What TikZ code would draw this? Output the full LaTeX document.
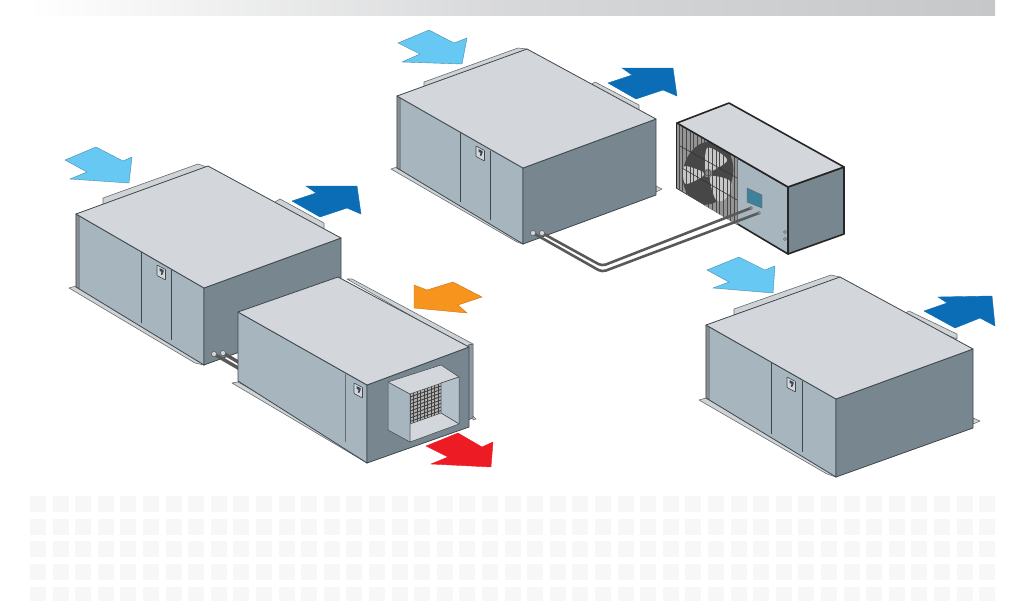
\documentclass[tikz,border=0pt]{standalone}
\definecolor{topgray}{HTML}{D3D7DC}
\definecolor{sidegray}{HTML}{A7B5BF}
\definecolor{endgray}{HTML}{78878F}
\definecolor{flangegray}{HTML}{D0D3D6}
\definecolor{edgegray}{HTML}{3E474C}
\definecolor{screenblue}{HTML}{3F8199}
\definecolor{inblue}{HTML}{67C8F3}
\definecolor{outblue}{HTML}{0B6DB5}
\definecolor{inorange}{HTML}{F7941E}
\definecolor{outred}{HTML}{ED1C24}
\definecolor{barend}{HTML}{C6C7C9}
\definecolor{tile}{HTML}{F7F7F7}
\tikzset{
  topface/.style={fill=topgray,draw=edgegray,line width=.8pt,line join=round},
  sideface/.style={fill=sidegray,draw=edgegray,line width=.8pt,line join=round},
  endface/.style={fill=endgray,draw=edgegray,line width=.8pt,line join=round},
  flange/.style={fill=flangegray,draw=edgegray!80,line width=.6pt,line join=round},
  divider/.style={draw=edgegray,line width=.8pt},
  pipeline/.style={draw=black!65,line width=2.6pt,rounded corners=4pt},
  pipeend/.style={fill=topgray,draw=black!60,line width=.7pt},
  arrowin/.style={fill=inblue,draw=inblue!70!black,line width=.4pt},
  arrowout/.style={fill=outblue,draw=outblue,line width=.4pt},
  lockicon/.pic={
    \draw[fill=topgray,draw=edgegray,line width=.6pt,rounded corners=.5pt] (0,0)--(8.5,4.5)--(8.5,15)--(0,10.5)--cycle;
    \fill[edgegray] (2.5,3)--(6.5,5)--(6.5,7)--(5.2,10)--(3.8,9.5)--(4.6,6.8)--(2.5,5.8)--cycle;
  }
}
\begin{document}
\begin{tikzpicture}[x=1pt,y=-1pt]
\useasboundingbox (0,0) rectangle (1024,600);
\clip (0,0) rectangle (1024,600);

% header bar and tiles
\shade[left color=white,right color=barend,middle color=barend!70] (28,0) rectangle (995,15);
\foreach \row in {0,...,4}
  \foreach \col in {0,...,42}
    \fill[tile] ({30+22.6*\col},{496+22.7*\row}) rectangle +(16,16);

% left unit
\draw[flange] (103,198)--(198,164)--(207,167)--(207,170)--(103,206)--cycle;
\draw[flange] (280,199)--(324,223)--(324,229)--(270,205)--cycle;
\draw[flange] (69,288)--(76,286)--(204,360)--(204,365)--(195,363)--cycle;
\draw[sideface] (76,214)--(204,288)--(204,365)--(76,287)--cycle;
\draw[fill=edgegray!60,draw=edgegray,line width=.5pt] (76,214)--(79,216)--(79,288.5)--(76,287)--cycle;
\draw[endface] (204,288)--(341,238)--(341,315)--(204,365)--cycle;
\draw[topface] (76,214)--(208,166)--(341,238)--(204,288)--cycle;
\draw[divider] (141,252)--(141,323);
\draw[divider] (171,270)--(171,340);
\pic at (157,265) {lockicon};

% pipes between left unit and lower unit
\draw[pipeline,line width=3.4pt] (214,354)--(245,372);
\draw[pipeline,line width=3.4pt] (223,353)--(245,366);
\draw[pipeend] (214,354) circle (2.6);
\draw[pipeend] (223,353) circle (2.6);

% lower unit
\draw[flange] (347,279)--(352,279)--(473,344)--(467,348)--cycle;
\draw[flange] (232,383)--(238,382)--(367,455)--(367,463)--(357,457)--cycle;
\draw[fill=endgray!85!white,draw=edgegray,line width=.5pt] (468,345)--(473,344)--(473,418)--(468,420)--cycle;
\draw[flange] (473,416)--(476,419)--(473,420)--cycle;
\draw[sideface] (238,312)--(367,385)--(367,463)--(238,381)--cycle;
\draw[endface] (367,385)--(469,347)--(469,427)--(367,463)--cycle;
\draw[topface] (238,312)--(338,277)--(469,347)--(367,385)--cycle;
\draw[divider,edgegray!80] (345,373)--(345,442);
\pic at (354,383) {lockicon};

% duct on the lower unit
\begin{scope}
\clip (410,394)--(441,383)--(441,413)--(410,424)--cycle;
\fill[black!30] (405,370) rectangle (445,430);
\foreach \x in {410,413.5,...,441}
  \draw[black!75,line width=.9pt] (\x,375)--(\x,430);
\foreach \y in {390,393.5,...,450}
  \draw[black!75,line width=.9pt] (410,\y)--(441,{\y-11});
\end{scope}
\draw[sideface,line width=.5pt] (388,382)--(410,394)--(410,442)--(388,430)--cycle;
\draw[topface,line width=.5pt] (388,382)--(441,365)--(459,377)--(410,394)--cycle;
\draw[fill=sidegray!85!white,draw=edgegray,line width=.5pt] (441,383)--(459,377)--(459,424)--(441,413)--cycle;
\draw[topface,line width=.5pt] (410,424)--(441,413)--(459,424)--(410,442)--cycle;

% top unit
\draw[flange] (424,82)--(518,48)--(527,49)--(527,52)--(424,88)--cycle;
\draw[flange] (595,82)--(639,105)--(639,110)--(585,88)--cycle;
\draw[flange] (656,186)--(662,189)--(656,192)--cycle;
\draw[flange] (391,169)--(397,167)--(523,240)--(523,244)--(517,242)--cycle;
\draw[sideface] (397,96)--(523,168)--(523,244)--(397,168)--cycle;
\draw[fill=edgegray!60,draw=edgegray,line width=.5pt] (397,96)--(400,98)--(400,169.5)--(397,168)--cycle;
\draw[endface] (523,168)--(656,119)--(656,195)--(523,244)--cycle;
\draw[topface] (397,96)--(527,49)--(656,119)--(523,168)--cycle;
\draw[divider] (460,133)--(460,202);
\draw[divider] (490,151)--(490,220);
\pic at (476,146) {lockicon};

% condenser
\draw[fill=sidegray,draw=black!85,line width=1.6pt,line join=round] (677,123)--(788,187)--(788,254)--(677,188)--cycle;
\begin{scope}
\clip (677,123)--(737,158)--(737,225)--(677,188)--cycle;
\fill[black!42] (670,115) rectangle (740,230);
\fill[black!72,rotate around={-12:(708,173)}] (708,173) ellipse (25 and 32);
\fill[black!22] plot[smooth cycle] coordinates {(705,169)(707,148)(720,153)(727,161)(712,171)};
\fill[black!22] plot[smooth cycle] coordinates {(703,172)(685,166)(683,175)(686,184)(702,177)};
\fill[black!22] plot[smooth cycle] coordinates {(711,176)(729,180)(731,190)(724,200)(716,200)(711,186)};
\fill[black!45] (708,173) circle (4.5);
\draw[black!70,line width=.5pt] (708,173) circle (3);
\foreach \x in {679,682.7,...,737}
  \draw[black!72,line width=1pt] (\x,120)--(\x,230);
\draw[black!80,line width=.6pt] (680,146)--(737,178);
\draw[black!80,line width=.6pt] (682,168)--(737,200);
\end{scope}
\draw[fill=screenblue,draw=black!60,line width=.4pt] (747,188)--(762,195)--(762,208)--(747,202)--cycle;
\draw[fill=endgray,draw=black!85,line width=1.6pt,line join=round] (788,187)--(844,167)--(844,234)--(788,254)--cycle;
\draw[fill=topgray,draw=black!85,line width=1.6pt,line join=round] (677,123)--(729,103)--(844,167)--(788,187)--cycle;
\draw[black!60,line width=.5pt] (737,158)--(737,225);
\draw[fill=sidegray!70,draw=black!65,line width=.6pt] (785,232) circle (1.5);
\draw[fill=sidegray!70,draw=black!65,line width=.6pt] (785,239) circle (1.5);

% pipes between top unit and condenser
\draw[pipeline] (533,233)--(602,272)--(759,213);
\draw[pipeline] (542,233)--(602,266)--(751,208);
\draw[pipeend] (533,233) circle (2.6);
\draw[pipeend] (542,233) circle (2.6);
\draw[pipeend] (751,208) circle (1.4);
\draw[pipeend] (759,213) circle (1.4);

% right unit
\draw[flange] (734,309)--(831,275)--(840,277)--(840,280)--(734,315)--cycle;
\draw[flange] (909,311)--(957,334)--(957,339)--(900,316)--cycle;
\draw[flange] (973,418)--(980,421)--(973,424)--cycle;
\draw[flange] (699,400)--(706,398)--(836,472)--(836,477)--(827,474)--cycle;
\draw[sideface] (706,325)--(836,399)--(836,477)--(706,398)--cycle;
\draw[fill=edgegray!60,draw=edgegray,line width=.5pt] (706,325)--(709,327)--(709,399.5)--(706,398)--cycle;
\draw[endface] (836,399)--(973,349)--(973,428)--(836,477)--cycle;
\draw[topface] (706,325)--(840,277)--(973,349)--(836,399)--cycle;
\draw[divider] (771,363)--(771,434);
\draw[divider] (802,381)--(802,452);
\pic at (787,377) {lockicon};

% air arrows
\draw[arrowin] (65,160)--(96,147)--(123,161)--(132,157)--(129,183)--(70,179)--(87,172)--cycle;
\draw[arrowin] (398,43)--(429,30)--(454,43)--(467,38)--(462,64)--(402,62)--(420,54)--cycle;
\draw[arrowin] (707,270)--(739,257)--(765,270)--(775,266)--(773,293)--(713,288)--(729,282)--cycle;
\draw[arrowout] (292,201)--(316,193)--(306,186)--(357,186)--(361,214)--(347,208)--(320,217)--cycle;
\draw[arrowout] (608,83)--(632,75)--(622,68)--(673,68)--(677,96)--(663,90)--(636,99)--cycle;
\draw[arrowout] (924,311)--(947,303)--(938,297)--(992,296)--(995,326)--(980,318)--(955,328)--cycle;
\draw[fill=inorange,draw=inorange!80!black,line width=.4pt] (414,285)--(427,290)--(453,282)--(482,297)--(458,305)--(467,313)--(414,308)--cycle;
\draw[fill=outred,draw=outred,line width=.4pt] (426,446)--(458,433)--(482,447)--(493,442)--(491,467)--(431,464)--(448,457)--cycle;

\end{tikzpicture}
\end{document}
